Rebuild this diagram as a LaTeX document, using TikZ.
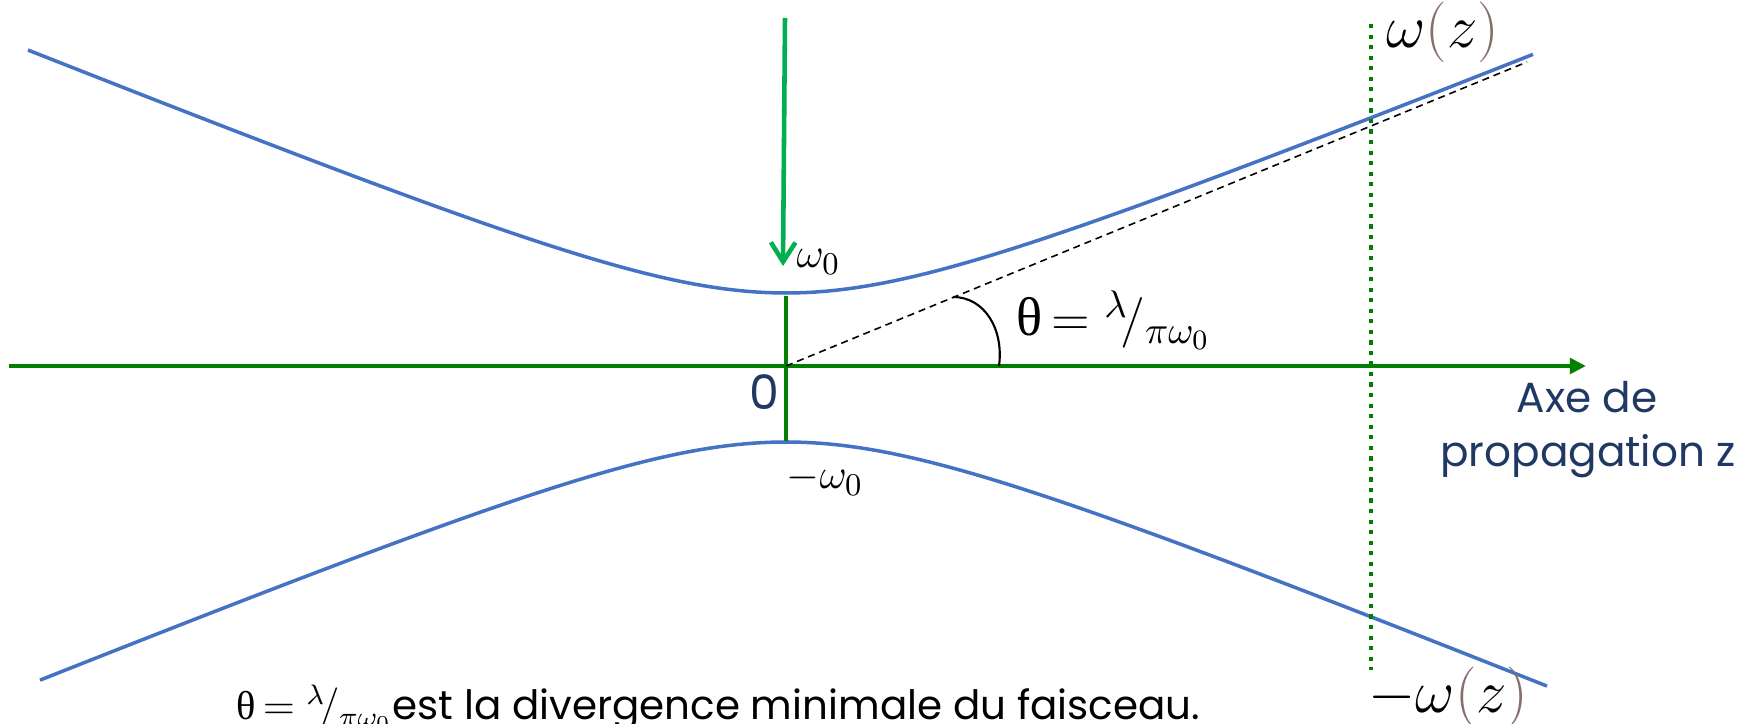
\documentclass[tikz,border=0pt]{standalone}
\usepackage[no-math]{fontspec}
\setmainfont{Poppins}
\newfontfamily\grk{Liberation Serif}
\usetikzlibrary{arrows.meta}
\definecolor{beamblue}{HTML}{4472C4}
\definecolor{axisgreen}{HTML}{008000}
\definecolor{arrowgreen}{HTML}{00B050}
\definecolor{navy}{HTML}{1F3864}
\definecolor{parbrown}{RGB}{134,110,106}
\newcommand{\divangle}{{\grk θ}\,$={}^{\lambda}\!/_{\pi\omega_0}$}
\newcommand{\wz}{\omega\textcolor{parbrown}{(}z\textcolor{parbrown}{)}}
\begin{document}
\begin{tikzpicture}[
  x=0.1mm, y=-0.1mm,
  beam/.style={beamblue, line width=1pt},
  axisline/.style={axisgreen, line width=1.2pt},
  dotline/.style={axisgreen, line width=1.2pt, dash pattern=on 1.2pt off 1.8pt},
  guide/.style={black, line width=0.45pt, dash pattern=on 2pt off 1.4pt},
  arrow/.style={-{Straight Barb[length=5.5pt,width=7pt]}, arrowgreen, line width=1.3pt},
  lbl/.style={inner sep=0pt, font=\fontsize{13}{15}\selectfont},
  biglbl/.style={inner sep=0pt, font=\fontsize{16}{18}\selectfont},
  axistext/.style={inner sep=0pt, navy, font=\fontsize{12}{14}\selectfont}
]
\useasboundingbox (0,0) rectangle (1752,724);

% beam envelope
\draw[beam] plot[domain=-758:747, samples=150] ({786+\x}, {366-73*sqrt(1+(\x/180)^2)});
\draw[beam] plot[domain=-746:761, samples=150] ({786+\x}, {366+76*sqrt(1+(\x/186)^2)});

% axes
\coordinate (origin) at (786,366);
\coordinate (axstart) at (9,366);
\coordinate (axend) at (1586,366);
\coordinate (waisttop) at (786,296);
\coordinate (waistbot) at (786,441);
\draw[axisline, -{Triangle[length=4.6pt,width=4.4pt]}] (axstart) -- (axend);
\draw[axisline] (waisttop) -- (waistbot);

% plane at z
\coordinate (planetop) at (1371,24);
\coordinate (planebot) at (1371,670);
\draw[dotline] (planetop) -- (planebot);

% asymptote and angle
\coordinate (asymend) at (1527,62);
\draw[guide] (origin) -- (asymend);
\draw[line width=0.6pt] (953,297) .. controls (985,297) and (1004,330) .. (999,366);

% waist arrow
\coordinate (arrtop) at (785,18);
\coordinate (arrtip) at (783,266);
\draw[arrow] (arrtop) -- (arrtip);

% labels
\node[lbl, anchor=base west] (w0) at (796,268) {$\omega_0$};
\node[lbl, anchor=base west] (mw0) at (786,489) {$-\omega_0$};
\node[inner sep=0pt, navy, font=\fontsize{13.5}{16}\selectfont, anchor=base east] (zero) at (780,410) {0};
\node[inner sep=0pt, font=\fontsize{15.5}{17}\selectfont, anchor=base west] (theta) at (1016,336) {\divangle};
\node[biglbl, anchor=base west] (wz) at (1386,48) {$\wz$};
\node[biglbl, anchor=base west] (mwz) at (1368,713) {$-\wz$};
\node[axistext, anchor=base] (axe1) at (1587,413) {Axe de};
\node[axistext, anchor=base] (axe2) at (1588,467) {propagation z};
\node[inner sep=0pt, font=\fontsize{11.5}{13}\selectfont, anchor=base west] (note) at (236,720) {\divangle est la divergence minimale du faisceau.};
\end{tikzpicture}
\end{document}
